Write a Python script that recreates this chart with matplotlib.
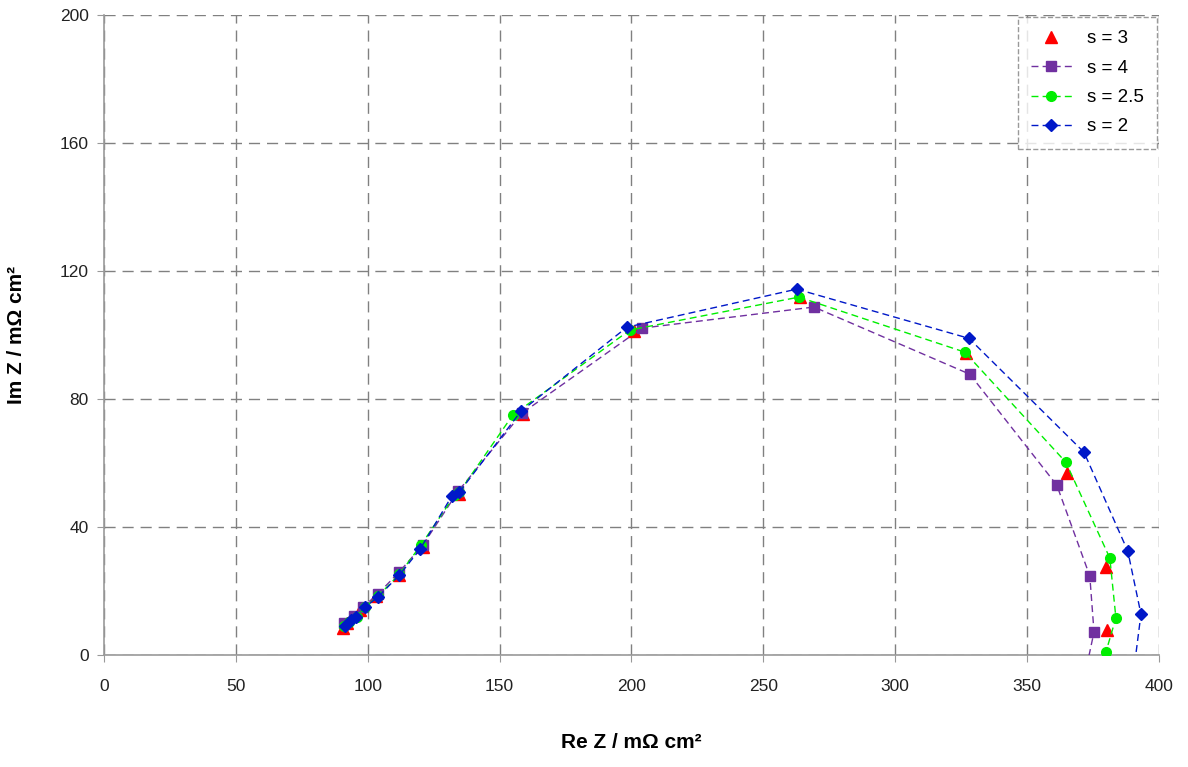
import matplotlib.pyplot as plt

plt.rcParams['font.family'] = ['Liberation Sans', 'DejaVu Sans']

# Nyquist data, Re Z / Im Z in mOhm cm2
re_s3 = [90.5, 92.3, 97.0, 103.0, 111.8, 121.0, 134.5, 158.8, 201.0, 264.0, 327.0, 365.1, 379.8, 380.3]
im_s3 = [8.6, 10.0, 14.0, 18.3, 24.9, 33.8, 50.2, 75.2, 101.4, 111.8, 94.5, 56.9, 27.5, 7.8]

re_s4 = [91.0, 94.8, 98.2, 104.0, 112.0, 121.0, 134.3, 158.5, 204.0, 269.2, 328.3, 361.3, 373.8, 375.4, 372.0]
im_s4 = [10.0, 12.2, 15.0, 19.2, 26.0, 34.5, 51.2, 75.6, 102.2, 108.8, 87.8, 53.1, 24.7, 7.2, -6.0]

re_s25 = [91.0, 93.0, 96.0, 99.0, 104.0, 112.0, 120.3, 133.0, 134.8, 155.0, 199.4, 263.5, 326.4, 364.7, 381.4, 383.7, 379.9]
im_s25 = [9.0, 10.2, 12.0, 15.0, 18.5, 25.2, 34.5, 50.0, 51.0, 75.0, 101.6, 111.9, 94.7, 60.3, 30.3, 11.6, 0.9]

re_s2 = [91.5, 93.5, 95.5, 99.0, 104.0, 112.0, 119.8, 131.9, 134.8, 158.1, 198.3, 262.7, 328.0, 371.6, 388.2, 393.2, 390.0]
im_s2 = [9.2, 10.8, 12.0, 15.0, 18.2, 25.0, 33.0, 49.7, 51.0, 76.2, 102.5, 114.4, 99.0, 63.4, 32.5, 12.8, -8.0]

fig = plt.figure(figsize=(11.88, 7.67), dpi=100)
ax = fig.add_axes([0.0875, 0.146, 0.888, 0.834])

ax.plot(re_s3, im_s3, linestyle='none', marker='^', color='#ff0000', markersize=8, label='s = 3', zorder=2.5)
ax.plot(re_s4, im_s4, linestyle=(0, (5, 3)), linewidth=1, marker='s', color='#7030a0',
        markersize=7, label='s = 4', zorder=3)
ax.plot(re_s25, im_s25, linestyle=(0, (5, 3)), linewidth=1, marker='o', color='#00ee00',
        markersize=7, label='s = 2.5', zorder=4)
ax.plot(re_s2, im_s2, linestyle=(0, (5, 3)), linewidth=1, marker='D', color='#0018c8',
        markersize=6, label='s = 2', zorder=4)

ax.set_xlim(0, 400)
ax.set_ylim(0, 200)
ax.set_xticks(range(0, 401, 50))
ax.set_yticks(range(0, 201, 40))
ax.grid(True, color='#808080', linestyle=(0, (8, 5)), linewidth=1)

for side in ['top', 'right']:
    ax.spines[side].set_visible(False)
for side in ['left', 'bottom']:
    ax.spines[side].set_color('#999999')
    ax.spines[side].set_linewidth(1.2)

ax.tick_params(axis='both', colors='#999999', labelcolor='#222222', labelsize=12.5,
               length=5, direction='out')
ax.tick_params(axis='x', pad=12)
ax.tick_params(axis='y', pad=6)

ax.set_xlabel('Re Z / mΩ cm²', fontsize=15, fontweight='bold', labelpad=28)
ax.set_ylabel('Im Z / mΩ cm²', fontsize=15, fontweight='bold', labelpad=24)

leg = ax.legend(loc='upper right', borderaxespad=0.1, fancybox=False, fontsize=13.5,
                edgecolor='#808080', handlelength=2.2, labelspacing=0.65, borderpad=0.7)
leg.get_frame().set_linestyle('--')
leg.get_frame().set_linewidth(1)

fig.savefig('out.png', dpi=100)
